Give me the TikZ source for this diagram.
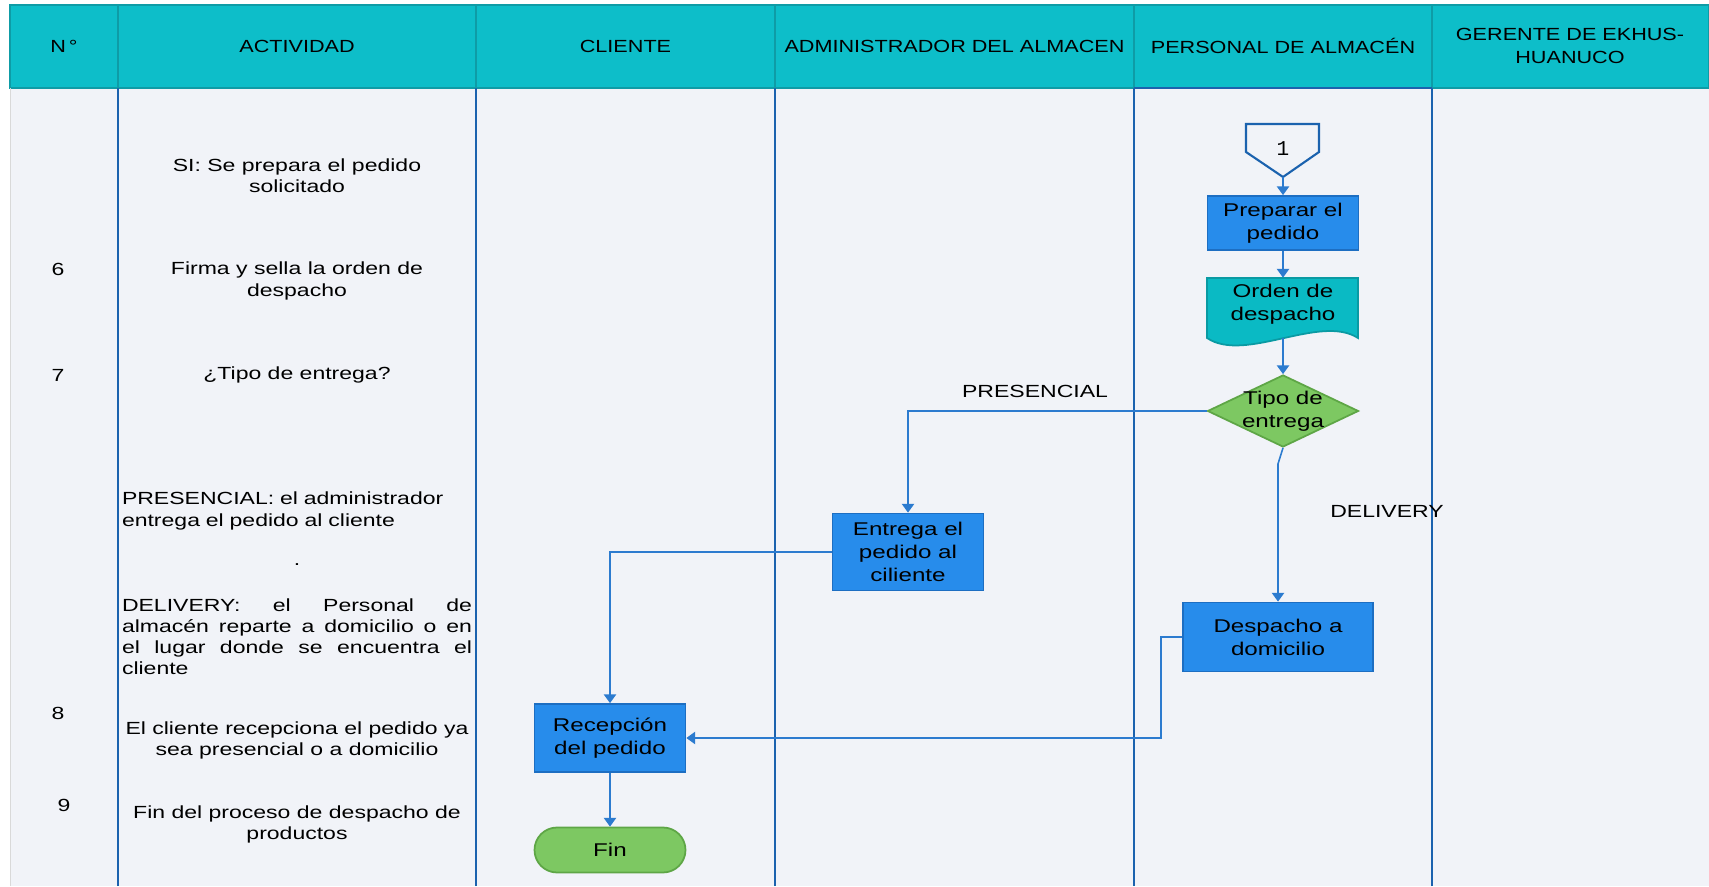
\documentclass[tikz,border=0pt]{standalone}
\usepackage{fontspec}
\setmainfont{Liberation Sans}[FakeStretch=1.31]
\newfontfamily\headfont{Liberation Sans}[FakeStretch=1.23]
\newfontfamily\numfont{Liberation Mono}
\usepackage{xcolor}
\usepackage{tikz}
\usetikzlibrary{arrows.meta, shapes.geometric, positioning}

\definecolor{headcyan}{HTML}{0DBEC9}
\definecolor{headline}{HTML}{0E9CA6}
\definecolor{bodybg}{HTML}{F1F3F8}
\definecolor{laneblue}{HTML}{1B62AE}
\definecolor{boxblue}{HTML}{278CEB}
\definecolor{boxedge}{HTML}{1D6EC2}
\definecolor{docfill}{HTML}{0ABAC4}
\definecolor{docedge}{HTML}{0A9AA3}
\definecolor{decgreen}{HTML}{7DC862}
\definecolor{decedge}{HTML}{5EA646}
\definecolor{flowblue}{HTML}{2C7BCF}

\begin{document}
\begin{tikzpicture}[
    head/.style={font=\headfont\fontsize{10}{13.5}\selectfont, align=center},
    txt/.style={font=\fontsize{10}{12}\selectfont, align=center},
    proc/.style={draw=boxedge, line width=1pt, fill=boxblue, minimum width=3.02cm, inner sep=0pt, align=center, font=\fontsize{10.5}{13}\selectfont},
    decision/.style={diamond, draw=decedge, line width=1pt, fill=decgreen, minimum width=3.02cm, minimum height=1.44cm, inner sep=0pt},
    flow/.style={draw=flowblue, line width=0.9pt, -{Triangle[length=5pt,width=7pt]}},
    lane/.style={draw=laneblue, line width=1.2pt}
]

        \useasboundingbox (0,0) rectangle (34.18,17.72);

        % table
        \fill[bodybg] (0.2,0) rectangle (34.18,15.96);
        \fill[headcyan] (0.2,15.96) rectangle (34.18,17.62);
        \draw[headline, line width=1pt] (0.2,15.96) rectangle (34.18,17.62);
        \foreach \x in {2.36,9.52,15.5,22.68,28.64} {
            \draw[headline, line width=1pt] (\x,15.96) -- (\x,17.62);
            \draw[lane] (\x,0) -- (\x,15.96);
        }
        \draw[gray!30] (0.2,0) -- (0.2,15.96);
        \draw[lane] (22.68,15.96) -- (28.64,15.96);

        \node[head] (hNum) at (1.28,16.8) {N\,°};
        \node[head] (hAct) at (5.94,16.8) {ACTIVIDAD};
        \node[head] (hCli) at (12.51,16.8) {CLIENTE};
        \node[head] (hAdm) at (19.09,16.8) {ADMINISTRADOR DEL ALMACEN};
        \node[head] (hPer) at (25.66,16.8) {PERSONAL DE ALMACÉN};
        \node[head] (hGer) at (31.4,16.8) {GERENTE DE EKHUS-\\HUANUCO};

        % numbers and activities
        \node[txt] (n6) at (1.16,12.34) {6};
        \node[txt] (n7) at (1.16,10.22) {7};
        \node[txt] (n8) at (1.16,3.46) {8};
        \node[txt] (n9) at (1.28,1.62) {9};

        \node[txt] (a1) at (5.94,14.2) {SI: Se prepara el pedido\\solicitado};
        \node[txt] (a2) at (5.94,12.1) {Firma y sella la orden de\\despacho};
        \node[txt] (a3) at (5.94,10.22) {¿Tipo de entrega?};
        \node[txt, text width=7cm, align=left, inner sep=0pt] (a4) at (5.94,7.5) {PRESENCIAL: el administrador\\entrega el pedido al cliente};
        \node[txt] (a5) at (5.94,6.42) {.};
        \node[txt, text width=7cm, align=justify, inner sep=0pt] (a6) at (5.94,4.99) {DELIVERY: el Personal de\linebreak almacén reparte a domicilio o en\linebreak el lugar donde se encuentra el\linebreak cliente};
        \node[txt] (a7) at (5.94,2.91) {El cliente recepciona el pedido ya\\sea presencial o a domicilio};
        \node[txt] (a8) at (5.94,1.23) {Fin del proceso de despacho de\\productos};

        % flow
        \draw[laneblue, fill=bodybg, line width=1.2pt] (24.92,15.24) -- (26.38,15.24) -- (26.38,14.68) -- (25.66,14.18) -- (24.92,14.68) -- cycle;
        \node[font=\numfont\fontsize{12}{14}\selectfont] (con1) at (25.66,14.74) {1};
        \coordinate (con1tip) at (25.66,14.18);

        \node[proc, minimum height=1.08cm] (prep) at (25.66,13.26) {Preparar el\\pedido};

        \draw[docedge, fill=docfill, line width=1pt] (24.14,12.16) -- (27.16,12.16) -- (27.16,10.96) .. controls (26.4,11.45) and (24.9,10.45) .. (24.14,10.96) -- cycle;
        \node[minimum width=3.02cm, minimum height=1.2cm, inner sep=0pt] (orden) at (25.66,11.56) {};
        \node[txt, font=\fontsize{10.5}{13}\selectfont] (ordentxt) at (25.66,11.63) {Orden de\\despacho};

        \node[decision] (tipo) at (25.66,9.5) {};
        \node[txt, font=\fontsize{10.5}{13}\selectfont] (tipotxt) at (tipo) {Tipo de\\entrega};

        \node[proc, minimum height=1.54cm] (entrega) at (18.16,6.68) {Entrega el\\pedido al\\ciliente};
        \node[proc, minimum width=3.8cm, minimum height=1.38cm] (despacho) at (25.56,4.98) {Despacho a\\domicilio};
        \node[proc, minimum height=1.36cm] (recep) at (12.2,2.96) {Recepción\\del pedido};
        \node[draw=decedge, line width=1pt, fill=decgreen, rounded corners=0.45cm, minimum width=3.02cm, minimum height=0.9cm, font=\fontsize{10.5}{13}\selectfont] (fin) at (12.2,0.72) {Fin};

        \node[txt] (lblPres) at (20.7,9.9) {PRESENCIAL};
        \node[txt] (lblDel) at (27.74,7.5) {DELIVERY};

        \draw[flow] (con1tip) -- (prep.north);
        \draw[flow] (prep.south) -- (orden.north);
        \draw[flow] (orden.south) -- (tipo.north);
        \draw[flow] (tipo.west) -| (entrega.north);
        \draw[flow] (tipo.south) -- ([xshift=-0.1cm,yshift=-0.32cm]tipo.south) -- (despacho.north);
        \draw[flow] (entrega.west) -| (recep.north);
        \draw[flow] (despacho.west) -- ++(-0.42,0) |- (recep.east);
        \draw[flow] (recep.south) -- (fin.north);

    \end{tikzpicture}
\end{document}
